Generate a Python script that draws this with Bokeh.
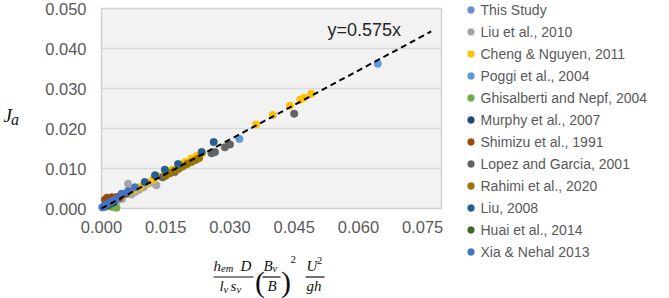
from bokeh.plotting import figure
from bokeh.models import (Range1d, FixedTicker, NumeralTickFormatter, Legend, LegendItem,
                          Label, BoxAnnotation)
from bokeh.embed import file_html
from bokeh.resources import INLINE

# ---- data -------------------------------------------------------------
series_names = ["This Study", "Liu et al., 2010", "Cheng & Nguyen, 2011", "Poggi et al., 2004",
                "Ghisalberti and Nepf, 2004", "Murphy et al., 2007", "Shimizu et al., 1991",
                "Lopez and Garcia, 2001", "Rahimi et al., 2020", "Liu, 2008",
                "Huai et al., 2014", "Xia & Nehal 2013"]
series_colors = ["#698ED0", "#A5A5A5", "#FFC000", "#5B9BD5", "#70AD47", "#264478",
                 "#9E480E", "#636363", "#997300", "#255E91", "#43682B", "#4472C4"]

this_study_x = [0.0004, 0.0009, 0.0014, 0.0020, 0.0027, 0.0033, 0.0040]
this_study_y = [0.0003, 0.0006, 0.0009, 0.0012, 0.0016, 0.0019, 0.0024]

liu2010_x = [0.0035, 0.0048, 0.0062, 0.0070, 0.0078, 0.0088, 0.0098, 0.0108, 0.0118, 0.0128]
liu2010_y = [0.0017, 0.0024, 0.0062, 0.0035, 0.0041, 0.0047, 0.0053, 0.0062, 0.0066, 0.0058]

cheng_x = [0.0045, 0.0060, 0.0075, 0.0090, 0.0105, 0.0120, 0.0135, 0.0150, 0.0165, 0.0180,
           0.0195, 0.0210, 0.0222, 0.0235, 0.0361, 0.0400, 0.0440, 0.0464, 0.0473, 0.0490]
cheng_y = [0.0030, 0.0037, 0.0046, 0.0054, 0.0063, 0.0072, 0.0080, 0.0089, 0.0097, 0.0108,
           0.0116, 0.0125, 0.0131, 0.0138, 0.0210, 0.0234, 0.0257, 0.0272, 0.0277, 0.0287]

poggi_x = [0.0322, 0.0645]
poggi_y = [0.0174, 0.0362]

ghisalberti_x = [0.0025, 0.0035, 0.0030]
ghisalberti_y = [0.0004, 0.0002, 0.0006]

murphy_x = [0.0012, 0.0020, 0.0028]
murphy_y = [0.0008, 0.0011, 0.0015]

shimizu_x = [0.0008, 0.0013, 0.0018, 0.0024, 0.0030, 0.0036, 0.0042]
shimizu_y = [0.0022, 0.0027, 0.0025, 0.0028, 0.0026, 0.0029, 0.0027]

lopez_x = [0.0058, 0.0143, 0.0171, 0.0257, 0.0265, 0.0288, 0.0300, 0.0450]
lopez_y = [0.0037, 0.0078, 0.0091, 0.0138, 0.0141, 0.0153, 0.0160, 0.0237]

rahimi_x = [0.0150, 0.0160, 0.0170, 0.0180, 0.0190, 0.0200, 0.0210, 0.0220, 0.0228]
rahimi_y = [0.0082, 0.0088, 0.0094, 0.0099, 0.0105, 0.0111, 0.0116, 0.0121, 0.0126]

liu2008_x = [0.0101, 0.0125, 0.0148, 0.0179, 0.0234, 0.0262]
liu2008_y = [0.0066, 0.0083, 0.0097, 0.0111, 0.0141, 0.0166]

huai_x = [0.0010, 0.0018]
huai_y = [0.0005, 0.0009]

xia_x = [0.0002, 0.0008, 0.0015, 0.0024, 0.0034, 0.0047, 0.0062, 0.0078]
xia_y = [0.0003, 0.0008, 0.0013, 0.0018, 0.0024, 0.0037, 0.0044, 0.0053]

series_x = [this_study_x, liu2010_x, cheng_x, poggi_x, ghisalberti_x, murphy_x, shimizu_x,
            lopez_x, rahimi_x, liu2008_x, huai_x, xia_x]
series_y = [this_study_y, liu2010_y, cheng_y, poggi_y, ghisalberti_y, murphy_y, shimizu_y,
            lopez_y, rahimi_y, liu2008_y, huai_y, xia_y]

fit_slope = 0.575
fit_x = [0.0, 0.077]
x_ticks = [0.0, 0.015, 0.030, 0.045, 0.060, 0.075]
y_ticks = [0.0, 0.01, 0.02, 0.03, 0.04, 0.05]
x_max, y_max = 0.0794, 0.05

INK = "#111111"
MARKER_SIZE = 7.5

# ---- page geometry (px) -----------------------------------------------
PAGE_W, PAGE_H = 669, 298
PA_L, PA_R, PA_T, PA_B = 101, 441, 8, 208     # plot area edges on the page
BASE_FIX = 6.5                                 # baseline correction for text pieces

# data ranges chosen so the plot area lands on PA_*, the rest of the page
# holds titles and the legend
sx = x_max / (PA_R - PA_L)
sy = y_max / (PA_B - PA_T)
x_rng = Range1d(-PA_L * sx, (PAGE_W - PA_L) * sx)
y_rng = Range1d(-(PAGE_H - PA_B) * sy, PA_B * sy)

p = figure(frame_width=PAGE_W, frame_height=PAGE_H, output_backend="svg",
           toolbar_location=None, min_border=0, x_range=x_rng, y_range=y_rng)
p.background_fill_color = "white"
p.border_fill_color = "white"
p.outline_line_color = None
p.grid.grid_line_color = None

# plot area background
p.quad(left=[0], right=[x_max], bottom=[0], top=[y_max], fill_color="#f2f2f2",
       line_color=None, level="image")
# horizontal gridlines at the inner y ticks
p.segment(x0=[0] * (len(y_ticks) - 2), x1=[x_max] * (len(y_ticks) - 2),
          y0=y_ticks[1:-1], y1=y_ticks[1:-1], line_color="#d9d9d9", line_width=1.5,
          level="underlay")
# plot area border
p.quad(left=[0], right=[x_max], bottom=[0], top=[y_max], fill_color=None,
       line_color="#d0d0d0", line_width=1.5, level="underlay")

# axes pinned to the plot area edges
p.xaxis.fixed_location = 0
p.yaxis.fixed_location = 0
for ax in (p.xaxis[0], p.yaxis[0]):
    ax.axis_line_color = None
    ax.major_tick_line_color = None
    ax.minor_tick_line_color = None
    ax.major_tick_out = 0
    ax.major_tick_in = 0
    ax.major_label_text_font = "Liberation Sans"
    ax.major_label_text_font_size = "16.5px"
    ax.major_label_text_color = "#595959"
    ax.formatter = NumeralTickFormatter(format="0.000")
p.xaxis.ticker = FixedTicker(ticks=x_ticks)
p.yaxis.ticker = FixedTicker(ticks=y_ticks)
p.xaxis.major_label_standoff = 12
p.yaxis.major_label_standoff = 15

renderers = [p.scatter(xs, ys, size=MARKER_SIZE, fill_color=col, line_color=col,
                       line_width=0.5)
             for xs, ys, col in zip(series_x, series_y, series_colors)]

fit_y = [fit_slope * v for v in fit_x]
p.line(fit_x, fit_y, line_color="black", line_width=2, line_dash="6 4")


def put(s, cx, base, size, italic=True, font="Liberation Serif", color=INK,
        baseline="alphabetic"):
    """Text with its baseline at page pixel (cx, base)."""
    y = PAGE_H - base
    if baseline == "alphabetic":
        y += BASE_FIX
    p.add_layout(Label(x=cx, y=y, x_units="screen", y_units="screen",
                       text=s, text_font=font, text_font_size=f"{size}px",
                       text_font_style="italic" if italic else "normal",
                       text_color=color, text_baseline=baseline, text_align="left"))


def bar(xa, xb, yc):
    p.add_layout(BoxAnnotation(left=xa, right=xb,
                               top=PAGE_H - yc + 0.6, bottom=PAGE_H - yc - 0.6,
                               left_units="screen", right_units="screen",
                               top_units="screen", bottom_units="screen",
                               fill_color=INK, fill_alpha=1, line_color=None))


# fit label
put(f"y={fit_slope}x", 327, 29, 18, italic=False, font="Liberation Sans",
    color="#262626", baseline="middle")

# y title: J_a
put("J", 3, 121, 19)
put("a", 10.5, 125, 16)

# x title: (h_em D / l_v s_v) (B_v / B)^2 U^2 / gh
put("h", 213, 271.5, 15)
put("em", 220.5, 274.5, 10.5)
put("D", 240, 271.5, 15)
bar(213, 253, 276.5)
put("l", 219, 291.5, 15)
put("v", 223, 295, 10.5)
put("s", 230, 291.5, 15)
put("v", 236, 295, 10.5)

put("(", 254.5, 287.5, 30, italic=False)
put("B", 263, 271.5, 15)
put("v", 272, 274.5, 10.5)
bar(262, 280, 276.5)
put("B", 267, 291.5, 15)
put(")", 280.5, 287.5, 30, italic=False)
put("2", 290, 265, 11, italic=False)

put("U", 306, 271.5, 15)
put("2", 316.5, 266, 10.5, italic=False)
bar(305, 324, 276.5)
put("gh", 306, 291.5, 15)

# ---- legend -----------------------------------------------------------
legend = Legend(items=[LegendItem(label=n, renderers=[r])
                       for n, r in zip(series_names, renderers)],
                location=(461.5, PAGE_H - 260), padding=0, margin=0, spacing=5,
                glyph_width=17, glyph_height=17, label_height=17, label_standoff=2,
                label_text_font="Liberation Sans", label_text_font_size="14px",
                label_text_color="#595959", background_fill_alpha=0, border_line_color=None)
p.add_layout(legend)

open("out.html", "w").write(file_html(p, INLINE))
